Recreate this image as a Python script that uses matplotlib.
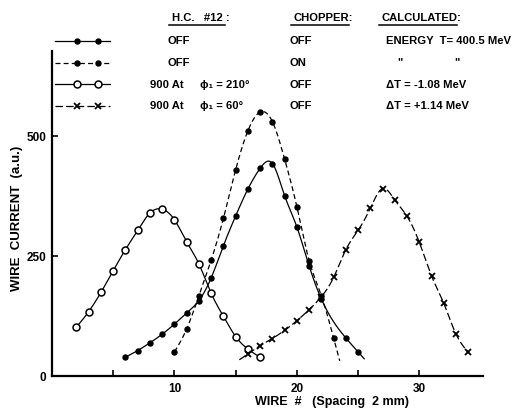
import numpy as np
import matplotlib
matplotlib.use("Agg")
import matplotlib.pyplot as plt

# ---------------- data ----------------
x_off = [6, 7, 8, 9, 10, 11, 12, 13, 14, 15, 16, 17, 18, 19, 20, 21, 22, 24, 25]
y_off = [39, 53, 69, 87, 108, 131, 157, 204, 271, 333, 389, 432, 442, 375, 310, 229, 160, 79, 50]

x_chop = [10, 11, 12, 13, 14, 15, 16, 17, 18, 19, 20, 21, 22, 23]
y_chop = [50, 98, 167, 241, 328, 429, 510, 549, 529, 451, 352, 240, 167, 79]

x_210 = [2, 3, 4, 5, 6, 7, 8, 9, 10, 11, 12, 13, 14, 15, 16, 17]
y_210 = [102, 134, 174, 219, 263, 303, 339, 347, 325, 279, 233, 172, 124, 82, 56, 39]

x_60 = [16, 17, 18, 19, 20, 21, 22, 23, 24, 25, 26, 27, 28, 29, 30, 31, 32, 33, 34]
y_60 = [46, 63, 78, 95, 115, 138, 165, 205, 263, 303, 349, 390, 366, 332, 278, 208, 151, 87, 49]

header = ["H.C.   #12 :", "CHOPPER:", "CALCULATED:"]
col_hc = ["OFF", "OFF", "900 At", "900 At"]
col_phi = ["", "", "ϕ₁ = 210°", "ϕ₁ = 60°"]
col_chop = ["OFF", "ON", "OFF", "OFF"]
col_calc = ["ENERGY  T= 400.5 MeV", None, "ΔT = -1.08 MeV", "ΔT = +1.14 MeV"]

xticks = [5, 10, 15, 20, 25, 30]
xticklabels = ["", "10", "", "20", "", "30"]
yticks = [0, 250, 500]


def smooth(x, y, ext_lo=0.0, ext_hi=0.0, n=400):
    """Natural cubic spline through the data points (for rendering)."""
    x = np.asarray(x, float)
    y = np.asarray(y, float)
    m = len(x)
    h = np.diff(x)
    A = np.zeros((m, m))
    b = np.zeros(m)
    A[0, 0] = 1
    A[-1, -1] = 1
    for i in range(1, m - 1):
        A[i, i - 1] = h[i - 1]
        A[i, i] = 2 * (h[i - 1] + h[i])
        A[i, i + 1] = h[i]
        b[i] = 6 * ((y[i + 1] - y[i]) / h[i] - (y[i] - y[i - 1]) / h[i - 1])
    M = np.linalg.solve(A, b)
    xs = np.linspace(x[0] - ext_lo, x[-1] + ext_hi, n)
    ys = np.empty_like(xs)
    for k, t in enumerate(xs):
        if t < x[0]:
            s = (y[1] - y[0]) / h[0] - h[0] * (2 * M[0] + M[1]) / 6
            ys[k] = y[0] + s * (t - x[0])
            continue
        if t > x[-1]:
            s = (y[-1] - y[-2]) / h[-1] + h[-1] * (M[-2] + 2 * M[-1]) / 6
            ys[k] = y[-1] + s * (t - x[-1])
            continue
        i = min(np.searchsorted(x, t) - 1, m - 2)
        i = max(i, 0)
        a = x[i + 1] - t
        c = t - x[i]
        ys[k] = (M[i] * a ** 3 / (6 * h[i]) + M[i + 1] * c ** 3 / (6 * h[i])
                 + (y[i] / h[i] - M[i] * h[i] / 6) * a
                 + (y[i + 1] / h[i] - M[i + 1] * h[i] / 6) * c)
    return xs, ys


W, H = 515, 414
fig = plt.figure(figsize=(W / 100, H / 100), dpi=100)
ax = fig.add_axes([52 / W, 1 - 377 / H, (483 - 52) / W, (377 - 52) / H])

FAM = ["Liberation Sans", "DejaVu Sans"]
FONT = dict(family=FAM, fontweight="bold")
FS = 8.1
lw = 0.9
dash_style = (0, (4, 2.5))
xdash_style = (0, (6, 2.5))
MS_DOT = 3.6
MS_OPEN = 5.0
MS_X = 4.0

# solid, filled
xs, ys = smooth(x_off, y_off, 0.0, 0.5)
ax.plot(xs, ys, color="black", lw=lw)
ax.plot(x_off, y_off, "o", color="black", ms=MS_DOT)
# dashed, filled
xs, ys = smooth(x_chop, y_chop, 0.0, 0.5)
ax.plot(xs, ys, color="black", lw=lw, linestyle=dash_style)
ax.plot(x_chop, y_chop, "o", color="black", ms=MS_DOT)
# open circles
xs, ys = smooth(x_210, y_210, 0.0, 0.0)
ax.plot(xs, ys, color="black", lw=lw)
ax.plot(x_210, y_210, "o", mfc="white", mec="black", mew=1.1, ms=MS_OPEN)
# crosses
xs, ys = smooth(x_60, y_60, 0.7, 0.0)
ax.plot(xs, ys, color="black", lw=lw, linestyle=xdash_style)
ax.plot(x_60, y_60, "x", color="black", ms=MS_X, mew=1.3)

ax.set_xlim(0, 35.2)
ax.set_ylim(0, 676)
ax.spines["top"].set_visible(False)
ax.spines["right"].set_visible(False)
for s in ("left", "bottom"):
    ax.spines[s].set_linewidth(1.6)
ax.set_xticks(xticks)
ax.set_xticklabels(xticklabels)
ax.set_yticks(yticks)
ax.set_yticklabels([str(v) for v in yticks])
ax.tick_params(direction="in", length=4, width=1.2, labelsize=8.5, pad=4)
for lab in ax.get_xticklabels() + ax.get_yticklabels():
    lab.set_fontweight("bold")
    lab.set_family(FAM)

fig.text(332 / W, 1 - 402 / H, "WIRE  #   (Spacing  2 mm)", ha="center", va="center",
         fontsize=9, **FONT)
fig.text(17 / W, 1 - 218 / H, "WIRE  CURRENT  (a.u.)", ha="center", va="center",
         rotation=90, fontsize=9.5, **FONT)

# ---------------- header / legend block ----------------
ov = fig.add_axes([0, 0, 1, 1], facecolor="none")
ov.set_xlim(0, W)
ov.set_ylim(H, 0)
ov.axis("off")

hx = [172, 294, 382]
for x0, t in zip(hx, header):
    ov.text(x0, 18, t, ha="left", va="center", fontsize=FS, **FONT)
fig.canvas.draw()
r = fig.canvas.get_renderer()
for tx in list(ov.texts):
    bb = tx.get_window_extent(r)
    ov.plot([bb.x0 - 3, bb.x1 - 5], [25.5, 25.5], color="black", lw=1.1)

rows_y = [41.5, 63.5, 85, 106.5]
styles = [
    dict(ls="-", marker="o", mfc="black", ms=MS_DOT),
    dict(ls=dash_style, marker="o", mfc="black", ms=MS_DOT),
    dict(ls="-", marker="o", mfc="white", ms=MS_OPEN, mew=1.1),
    dict(ls=xdash_style, marker="x", mfc="black", ms=MS_X, mew=1.3),
]
for yy, st in zip(rows_y, styles):
    ls = st.pop("ls")
    ov.plot([55, 110], [yy, yy], color="black", lw=lw, linestyle=ls)
    ov.plot([77, 98], [yy, yy], linestyle="none", color="black", mec="black", **st)

for i, yy in enumerate(rows_y):
    hx0 = 168 if col_hc[i] == "OFF" else 150
    ov.text(hx0, yy, col_hc[i], ha="left", va="center", fontsize=FS, **FONT)
    if col_phi[i]:
        ov.text(200, yy, col_phi[i], ha="left", va="center", fontsize=FS, **FONT)
    ov.text(290, yy, col_chop[i], ha="left", va="center", fontsize=FS, **FONT)
    if col_calc[i] is None:
        ov.text(400, yy - 1, '"', ha="center", va="center", fontsize=FS, **FONT)
        ov.text(457, yy - 1, '"', ha="center", va="center", fontsize=FS, **FONT)
    else:
        ov.text(386, yy, col_calc[i], ha="left", va="center", fontsize=FS, **FONT)

fig.savefig("out.png", dpi=100)
